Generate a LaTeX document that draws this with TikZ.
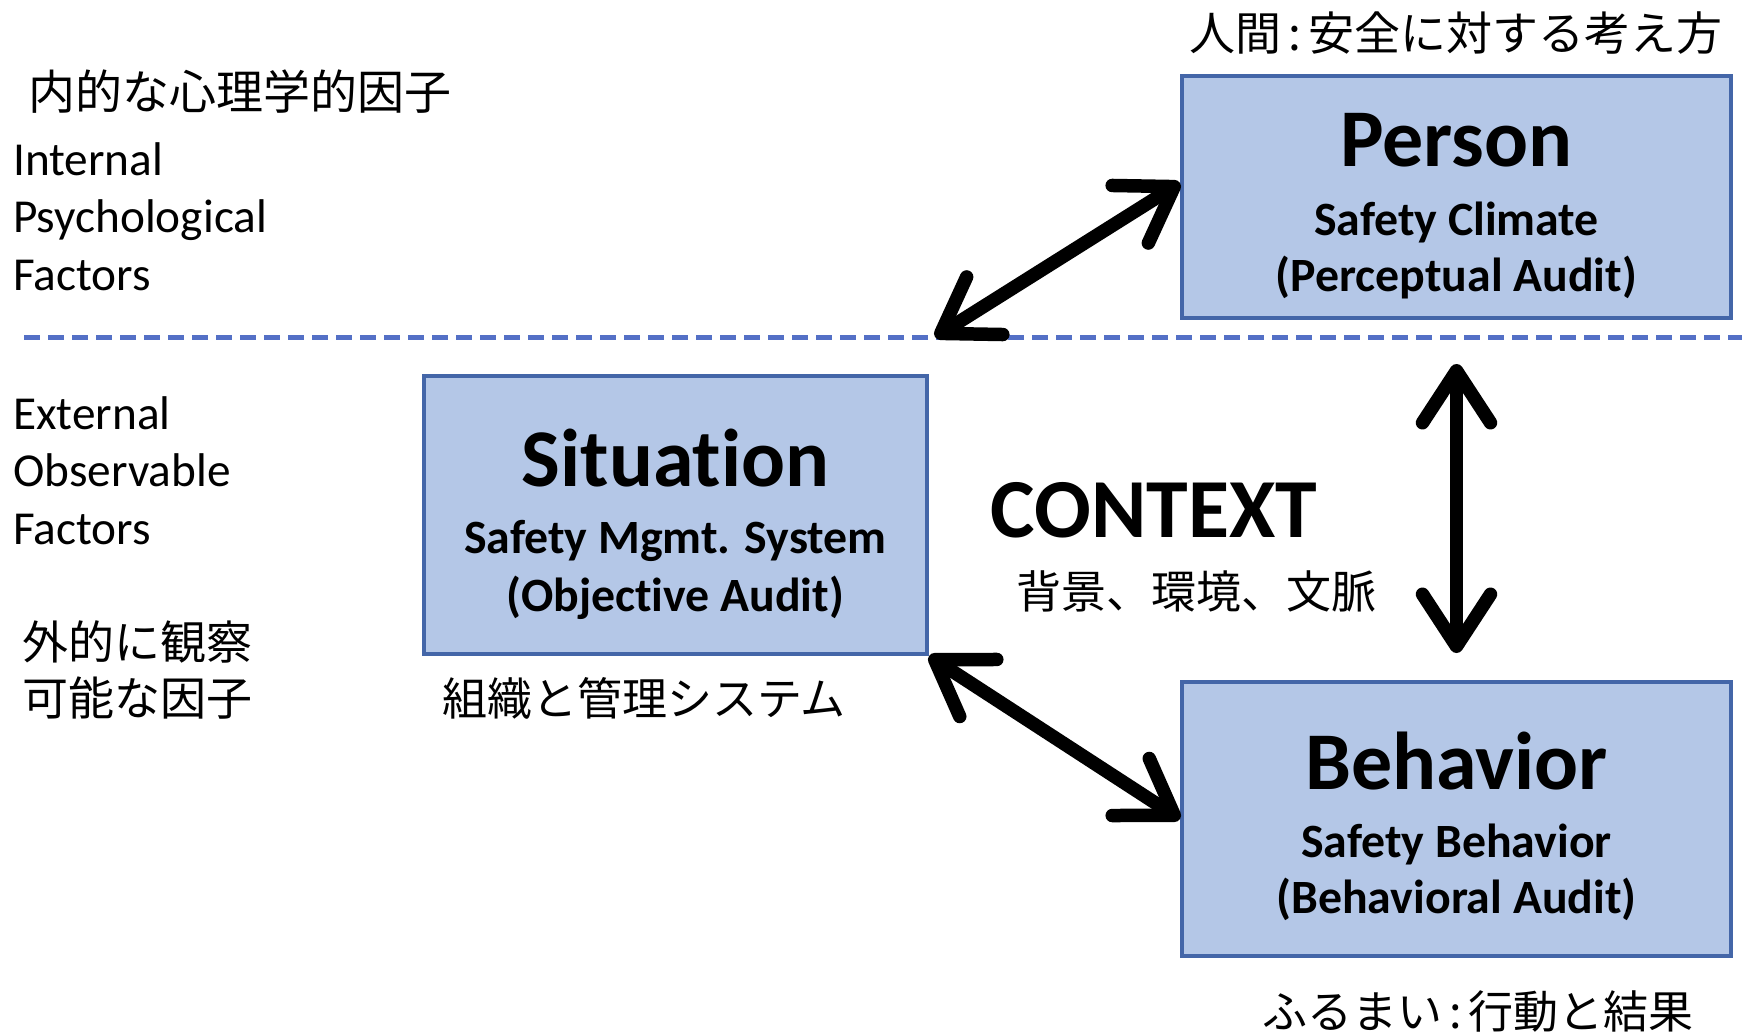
\documentclass[tikz,border=0pt]{standalone}
\usepackage{fontspec}
\setmainfont{Carlito}[Ligatures=NoCommon]
\newfontfamily\jp{Noto Sans CJK JP}
\usetikzlibrary{arrows.meta}
\definecolor{boxfill}{HTML}{B4C7E7}
\definecolor{boxline}{HTML}{4466A8}
\definecolor{dashblue}{HTML}{5470C6}
\newcommand{\jcolon}{\hspace{0.15em}:\hspace{0.15em}}
\begin{document}
\begin{tikzpicture}[x=1pt,y=-1pt,
  box/.style={draw=boxline, line width=4pt, fill=boxfill, inner sep=0pt},
  ttl/.style={font=\fontsize{82}{90}\selectfont\bfseries, inner sep=0pt, anchor=base},
  sub/.style={font=\fontsize{47.8}{57}\selectfont\bfseries, inner sep=0pt, anchor=base},
  side/.style={font=\fontsize{47.3}{57.5}\selectfont, inner sep=0pt, anchor=base west, align=left},
  jpt/.style={font=\jp\fontsize{45}{56}\selectfont, inner sep=0pt},
  dbl/.style={line width=13.5pt, {Straight Barb[length=52pt,width=68pt,round]}-{Straight Barb[length=52pt,width=68pt,round]}},
  dashline/.style={draw=dashblue, line width=5pt, dash pattern=on 16pt off 8pt}
]
\useasboundingbox (0,0) rectangle (1742,1035);

% dashed divider
\coordinate (dl0) at (24,337);
\coordinate (dl1) at (1742,337);
\draw[dashline] (dl0) -- (dl1);

% boxes
\node[box, minimum width=549pt, minimum height=242pt] (person) at (1456.5,197) {};
\node[box, minimum width=503pt, minimum height=278pt] (situation) at (675.5,515) {};
\node[box, minimum width=549pt, minimum height=274pt] (behavior) at (1456.5,819) {};

% box texts
\node[ttl] (personT) at (1456.5,167) {Person};
\node[sub] (personS1) at (1456.5,236) {Safety Climate};
\node[sub] (personS2) at (1456.5,291) {(Perceptual Audit)};

\node[ttl] (situT) at (675.5,486) {Situation};
\node[sub] (situS1) at (675.5,553) {Safety Mgmt. System};
\node[sub] (situS2) at (675.5,611) {(Objective Audit)};

\node[ttl] (behT) at (1456.5,789) {Behavior};
\node[sub] (behS1) at (1456.5,857) {Safety Behavior};
\node[sub] (behS2) at (1456.5,913) {(Behavioral Audit)};

\node[font=\fontsize{84}{90}\selectfont\bfseries, inner sep=0pt, anchor=base] (context) at (1154,537) {CONTEXT};

% side labels (anchored at the baseline of the last line)
\node[side] (internal) at (13,290) {Internal\\Psychological\\Factors};
\node[side] (external) at (13,544) {External\\Observable\\Factors};

% Japanese labels
\node[jpt, font=\jp\fontsize{46}{56}\selectfont] (jpPerson) at (1456,33) {人間\jcolon 安全に対する考え方};
\node[jpt, anchor=west, font=\jp\fontsize{47}{56}\selectfont] (jpInternal) at (28,92) {内的な心理学的因子};
\node[jpt, anchor=west, align=left, font=\jp\fontsize{46}{56}\selectfont] (jpExternal) at (22,670) {外的に観察\\可能な因子};
\node[jpt] (jpSitu) at (644,698) {組織と管理システム};
\node[jpt] (jpContext) at (1196,591) {背景、環境、文脈};
\node[jpt] (jpBeh) at (1478,1011) {ふるまい\jcolon 行動と結果};

% connectors
\coordinate (dlx) at (935,337);
\draw[dbl] (dlx) -- ([yshift=14pt]person.west);
\draw[dbl] (situation.south east) -- (behavior.west);
\draw[dbl] ([yshift=-44pt]person.south) -- ([yshift=27pt]behavior.north);
\end{tikzpicture}
\end{document}
